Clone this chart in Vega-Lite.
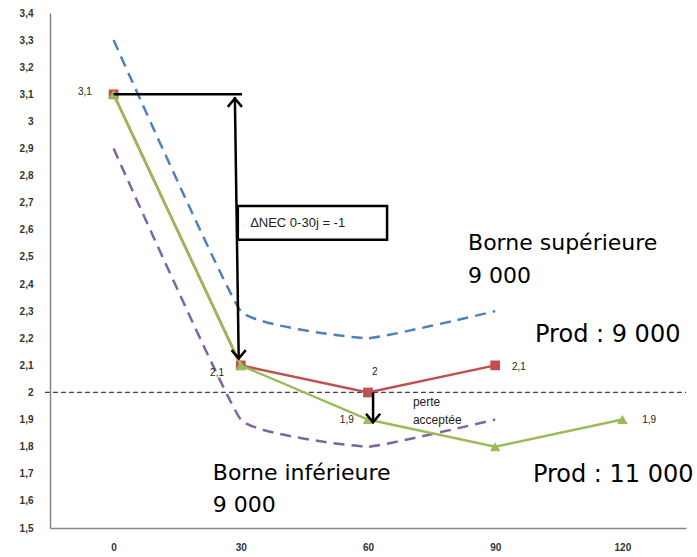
{
  "$schema": "https://vega.github.io/schema/vega-lite/v6.json",
  "width": 636,
  "height": 515,
  "autosize": {"type": "none"},
  "padding": {"left": 50, "top": 13, "right": 11, "bottom": 29},
  "background": "white",
  "config": {"view": {"stroke": null}, "font": "DejaVu Sans"},
  "encoding": {
    "x": {
      "field": "x", "type": "quantitative",
      "scale": {"domain": [-15, 135], "nice": false, "zero": false},
      "axis": {"values": [0, 30, 60, 90, 120], "grid": false, "ticks": false, "domainColor": "#868686", "domainWidth": 1.5,
        "labelFont": "Liberation Sans", "labelFontSize": 10, "labelFontWeight": "bold", "labelColor": "#333333",
        "labelPadding": 14, "labelFlush": false, "title": null}
    },
    "y": {
      "field": "y", "type": "quantitative",
      "scale": {"domain": [1.5, 3.4], "nice": false, "zero": false},
      "axis": {"values": [1.5, 1.6, 1.7, 1.8, 1.9, 2, 2.1, 2.2, 2.3, 2.4, 2.5, 2.6, 2.7, 2.8, 2.9, 3, 3.1, 3.2, 3.3, 3.4],
        "grid": false, "ticks": false, "domainColor": "#868686", "domainWidth": 1.5,
        "labelExpr": "replace(format(datum.value, '.1~f'), '.', ',')",
        "labelFont": "Liberation Sans", "labelFontSize": 10, "labelFontWeight": "bold", "labelColor": "#333333",
        "labelPadding": 17, "labelFlush": false, "labelOverlap": false, "title": null}
    }
  },
  "layer": [
    {
      "data": {"values": [{"x": 0, "y": 3.3}, {"x": 30, "y": 2.3}, {"x": 60, "y": 2.2}, {"x": 90, "y": 2.3}]},
      "mark": {"type": "line", "color": "#4F81BD", "strokeWidth": 2.5, "strokeDash": [11, 7], "interpolate": "cardinal", "tension": 0.7}
    },
    {
      "data": {"values": [{"x": 0, "y": 2.9}, {"x": 30, "y": 1.9}, {"x": 60, "y": 1.8}, {"x": 90, "y": 1.9}]},
      "mark": {"type": "line", "color": "#8064A2", "strokeWidth": 2.5, "strokeDash": [11, 7], "interpolate": "cardinal", "tension": 0.7}
    },
    {
      "data": {"values": [{"x": -16.2, "x2": 135, "y": 2}]},
      "mark": {"type": "rule", "color": "#404040", "strokeWidth": 1.3, "strokeDash": [5, 3]},
      "encoding": {"x2": {"field": "x2"}}
    },
    {
      "data": {"values": [{"x": 0, "y": 3.1}, {"x": 30, "y": 2.1}, {"x": 60, "y": 2.0}, {"x": 90, "y": 2.1}]},
      "mark": {"type": "line", "color": "#C0504D", "strokeWidth": 2.5, "point": {"shape": "square", "size": 95, "filled": true, "color": "#C0504D", "opacity": 1}}
    },
    {
      "data": {"values": [{"x": 0, "y": 3.1}, {"x": 30, "y": 2.1}, {"x": 60, "y": 1.9}, {"x": 90, "y": 1.8}, {"x": 120, "y": 1.9}]},
      "mark": {"type": "line", "color": "#9BBB59", "strokeWidth": 2.5, "point": {"shape": "triangle-up", "size": 110, "filled": true, "color": "#9BBB59", "opacity": 1}}
    },
    {
      "data": {"values": [
        {"x": 0, "y": 3.1, "x2": 30.3, "y2": 3.1},
        {"x": 28.6, "y": 3.09, "x2": 29.5, "y2": 2.13},
        {"x": 61.2, "y": 2.0, "x2": 61.2, "y2": 1.895}
      ]},
      "mark": {"type": "rule", "color": "black", "strokeWidth": 2.5},
      "encoding": {"x2": {"field": "x2"}, "y2": {"field": "y2"}}
    },
    {
      "data": {"values": [{"x": 28.6, "y": 3.085}]},
      "mark": {"type": "point", "shape": "M-1,1.2L0,0L1,1.2", "size": 200, "filled": false, "stroke": "black", "strokeWidth": 2.5, "opacity": 1}
    },
    {
      "data": {"values": [{"x": 29.5, "y": 2.125}, {"x": 61.2, "y": 1.89}]},
      "mark": {"type": "point", "shape": "M-1,-1.2L0,0L1,-1.2", "size": 200, "filled": false, "stroke": "black", "strokeWidth": 2.5, "opacity": 1}
    },
    {
      "data": {"values": [{"x": 29.3, "x2": 64.5, "y": 2.688, "y2": 2.563}]},
      "mark": {"type": "rect", "fill": "white", "stroke": "black", "strokeWidth": 2.5},
      "encoding": {"x2": {"field": "x2"}, "y2": {"field": "y2"}}
    },
    {
      "data": {"values": [{"x": 32.2, "y": 2.625, "t": "ΔNEC 0-30j  = -1"}]},
      "mark": {"type": "text", "align": "left", "baseline": "middle", "font": "Liberation Sans", "fontSize": 13, "color": "#222222"},
      "encoding": {"text": {"field": "t"}}
    },
    {
      "data": {"values": [{"x": 70.6, "y": 1.965, "t": "perte"}, {"x": 70.6, "y": 1.898, "t": "acceptée"}]},
      "mark": {"type": "text", "align": "left", "baseline": "middle", "font": "Liberation Sans", "fontSize": 12, "color": "#222222"},
      "encoding": {"text": {"field": "t"}}
    },
    {
      "data": {"values": [
        {"x": -6.75, "y": 3.109, "t": "3,1"},
        {"x": 24.4, "y": 2.072, "t": "2,1"},
        {"x": 61.6, "y": 2.076, "t": "2"},
        {"x": 95.6, "y": 2.094, "t": "2,1"},
        {"x": 55.0, "y": 1.899, "t": "1,9"},
        {"x": 126.3, "y": 1.899, "t": "1,9"}
      ]},
      "mark": {"type": "text", "align": "center", "baseline": "middle", "font": "Liberation Sans", "fontSize": 10, "color": "#222222"},
      "encoding": {"text": {"field": "t"}}
    },
    {
      "data": {"values": [
        {"x": 83.6, "y": 2.526, "t": "Borne supérieure"},
        {"x": 83.6, "y": 2.404, "t": "9 000"},
        {"x": 23.4, "y": 1.677, "t": "Borne inférieure"},
        {"x": 23.4, "y": 1.559, "t": "9 000"}
      ]},
      "mark": {"type": "text", "align": "left", "baseline": "alphabetic", "font": "DejaVu Sans", "fontSize": 22, "color": "black"},
      "encoding": {"text": {"field": "t"}}
    },
    {
      "data": {"values": [
        {"x": 99.4, "y": 2.186, "t": "Prod : 9 000"},
        {"x": 98.9, "y": 1.670, "t": "Prod : 11 000"}
      ]},
      "mark": {"type": "text", "align": "left", "baseline": "alphabetic", "font": "DejaVu Sans", "fontSize": 24, "color": "black"},
      "encoding": {"text": {"field": "t"}}
    }
  ]
}
